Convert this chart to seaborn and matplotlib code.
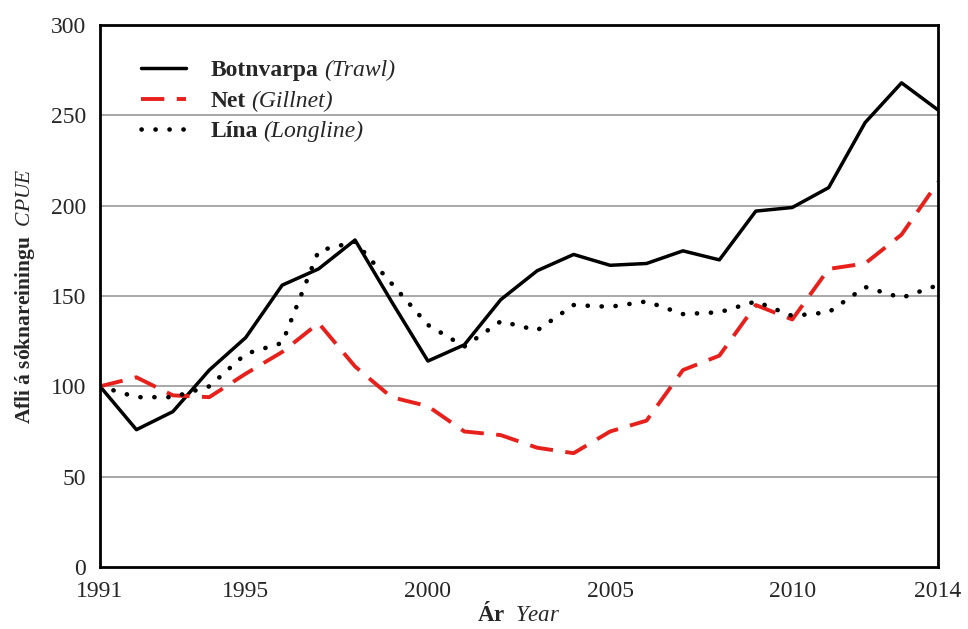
import numpy as np
import pandas as pd
import matplotlib
matplotlib.use('Agg')
import matplotlib.pyplot as plt
import seaborn as sns
from matplotlib.ticker import MultipleLocator

# --- 데이터 ---
years = list(range(1991, 2015))
trawl = [100, 76, 86, 109, 127, 156, 165, 181, 147, 114, 123, 148,
         164, 173, 167, 168, 175, 170, 197, 199, 210, 246, 268, 253]
gillnet = [100, 105, 95, 94, 107, 119, 135, 111, 94, 89, 75, 73,
           66, 63, 75, 81, 109, 117, 145, 137, 165, 168, 184, 213]
longline = [100, 94, 94, 100, 118, 124, 175, 180, 157, 134, 122, 136,
            131, 145, 144, 147, 140, 141, 147, 139, 141, 155, 149, 156]

names_is = ['Botnvarpa', 'Net', 'Lína']
names_en = ['(Trawl)', '(Gillnet)', '(Longline)']
x_ticks = [1991, 1995, 2000, 2005, 2010, 2014]
y_ticks = [0, 50, 100, 150, 200, 250, 300]

sns.set_style('white')
plt.rcParams['font.family'] = ['Liberation Serif', 'DejaVu Serif']
plt.rcParams['mathtext.fontset'] = 'custom'
plt.rcParams['mathtext.rm'] = 'Liberation Serif'
plt.rcParams['mathtext.bf'] = 'Liberation Serif:bold'
plt.rcParams['mathtext.it'] = 'Liberation Serif:italic'

df = pd.DataFrame({'year': years, 'trawl': trawl, 'gillnet': gillnet, 'longline': longline})

fig = plt.figure(figsize=(9.68, 6.29), dpi=100)
ax = fig.add_axes([0.1033, 0.0986, 0.8657, 0.8616])

# 격자
for v in y_ticks[1:-1]:
    ax.axhline(v, color='#999999', lw=1.2, zorder=0)

sns.lineplot(data=df, x='year', y='trawl', ax=ax, color='black', lw=2.5,
             label=names_is[0])
sns.lineplot(data=df, x='year', y='gillnet', ax=ax, color='#e8201c', lw=2.8,
             linestyle=(0, (6, 3.2)), label=names_is[1])
sns.lineplot(data=df, x='year', y='longline', ax=ax, color='black', lw=3.3,
             linestyle=(0, (0.05, 3.0)), dash_capstyle='round', label=names_is[2])

ax.set_xlim(1991, 2014)
ax.set_ylim(0, 300)
ax.set_xticks(x_ticks)
ax.xaxis.set_minor_locator(MultipleLocator(1))
ax.set_yticks(y_ticks)
ax.tick_params(axis='both', which='major', direction='out', length=8, width=1.5,
               labelsize=17, pad=2, color='black')
ax.tick_params(axis='x', which='minor', direction='out', length=5, width=1.5, color='black')
for s in ax.spines.values():
    s.set_color('black')
    s.set_linewidth(2)

ax.set_xlabel(r'$\bf{Ár}$  $\it{Year}$', fontsize=16.5, labelpad=0)
ax.set_ylabel(r'$\bf{Afli\ á\ sóknareiningu}$  $\it{CPUE}$', fontsize=15.5, labelpad=10)

leg = ax.legend(loc='upper left', bbox_to_anchor=(0.024, 0.975), frameon=False,
                prop={'size': 17, 'weight': 'bold'}, handlelength=1.9,
                handletextpad=1.05, labelspacing=0.38)

# 범례 영어 이름 (이탤릭) - 먼저 그려서 위치 확정
fig.canvas.draw()
renderer = fig.canvas.get_renderer()
for txt, en in zip(leg.get_texts(), names_en):
    bb = txt.get_window_extent(renderer)
    fx, fy = fig.transFigure.inverted().transform((bb.x1 + 5, bb.y0))
    fig.text(fx, fy, en, va='bottom', ha='left', fontsize=17, fontstyle='italic')

fig.savefig('out.png', dpi=100)
